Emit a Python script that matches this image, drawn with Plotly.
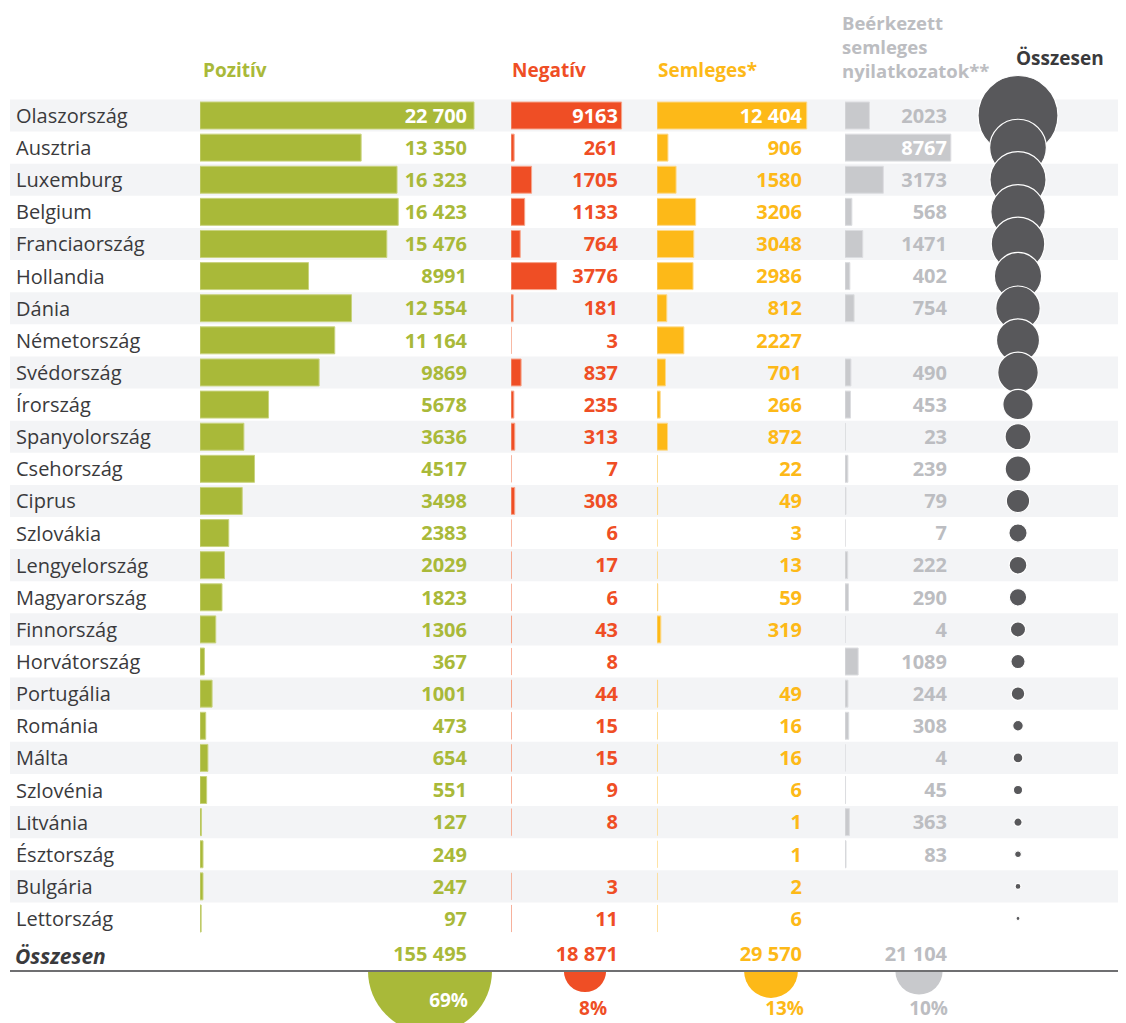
import plotly.graph_objects as go

# Adatok (országonként)
orszagok = ["Olaszország", "Ausztria", "Luxemburg", "Belgium", "Franciaország", "Hollandia",
            "Dánia", "Németország", "Svédország", "Írország", "Spanyolország", "Csehország",
            "Ciprus", "Szlovákia", "Lengyelország", "Magyarország", "Finnország", "Horvátország",
            "Portugália", "Románia", "Málta", "Szlovénia", "Litvánia", "Észtország", "Bulgária",
            "Lettország"]
pozitiv = [22700, 13350, 16323, 16423, 15476, 8991, 12554, 11164, 9869, 5678, 3636, 4517, 3498,
           2383, 2029, 1823, 1306, 367, 1001, 473, 654, 551, 127, 249, 247, 97]
negativ = [9163, 261, 1705, 1133, 764, 3776, 181, 3, 837, 235, 313, 7, 308, 6, 17, 6, 43, 8, 44,
           15, 15, 9, 8, None, 3, 11]
semleges = [12404, 906, 1580, 3206, 3048, 2986, 812, 2227, 701, 266, 872, 22, 49, 3, 13, 59, 319,
            None, 49, 16, 16, 6, 1, 1, 2, 6]
beerkezett = [2023, 8767, 3173, 568, 1471, 402, 754, None, 490, 453, 23, 239, 79, 7, 222, 290, 4,
              1089, 244, 308, 4, 45, 363, 83, None, None]
osszesen = [46290, 23284, 22784, 21339, 20759, 16155, 14301, 13394, 11897, 6632, 4844, 4785, 3934,
            2399, 2281, 2178, 1672, 1464, 1338, 812, 689, 611, 499, 333, 252, 114]
oszlop_osszesen = [155495, 18871, 29570, 21104]
mindosszesen = 225040
aranyok = [69, 8, 13, 10]

# Színek
ZOLD, PIROS, SARGA, SZURKE = "#a9b939", "#ef4e25", "#fdb918", "#c8c9cc"
SZURKE_TXT = "#bcbdc1"
SOTET = "#58585b"
SAV = "#f3f4f6"
FONT = "Open Sans"

# Az oldal 8 px margóval jeleníti meg az ábrát -> minden pozíció oldal-koordinátában
OFF = 8
W, H = 1126 - OFF, 1023 - OFF
ROW0, ROW_H = 115.5, 32.12
S = 274 / 22700  # px / érték, közös skála minden oszlopra


def px(p):
    return (p - OFF) / W


def py(p):
    return 1 - (p - OFF) / H


def fmt(v):
    if v is None:
        return ""
    if v >= 10000:
        return f"{v:,}".replace(",", " ")
    return str(v)


# oszlopok: (adatok, szín, keret, kezdő px, szöveg jobb széle px, szélesség px)
oszlopok = [
    (pozitiv, ZOLD, "#c9d37f", 200, 467, 290),
    (negativ, PIROS, "#f6a58c", 511, 618, 140),
    (semleges, SARGA, "#fdd98a", 657, 802, 180),
    (beerkezett, SZURKE, "#dcdde0", 845, 947, 130),
]
szoveg_szinek = [ZOLD, PIROS, SARGA, SZURKE_TXT]

rows = list(range(len(orszagok)))
y_total = (956 - ROW0) / ROW_H

fig = go.Figure()
layout_axes = {}

for k, (vals, col, line_col, start, txt_r, span) in enumerate(oszlopok):
    xa = "x" if k == 0 else f"x{k + 1}"
    fig.add_trace(go.Bar(
        x=vals, y=rows, orientation="h", width=0.84,
        marker=dict(color=col, line=dict(color=line_col, width=1)),
        xaxis=xa, yaxis="y", showlegend=False, hoverinfo="skip",
    ))
    txt_x = (txt_r - start) / S
    colors = ["white" if (v is not None and start + v * S >= txt_r) else szoveg_szinek[k] for v in vals]
    fig.add_trace(go.Scatter(
        x=[txt_x] * (len(vals) + 1), y=[r + 0.07 for r in rows] + [y_total],
        mode="text", text=[fmt(v) for v in vals] + [fmt(oszlop_osszesen[k])],
        textposition="middle left", cliponaxis=False,
        textfont=dict(family=FONT, size=20, color=colors + [szoveg_szinek[k]], weight="bold"),
        xaxis=xa, yaxis="y", showlegend=False, hoverinfo="skip",
    ))
    name = "xaxis" if k == 0 else f"xaxis{k + 1}"
    layout_axes[name] = dict(domain=[px(start), px(start + span)], range=[0, span / S],
                             visible=False, anchor="y", fixedrange=True)

# buborékok (összesen)
b_start, b_end = 975, 1065
max_d = 80
fig.add_trace(go.Scatter(
    x=[1018] * len(osszesen), y=rows, mode="markers",
    marker=dict(size=[max_d * (v / max(osszesen)) ** 0.5 for v in osszesen], sizemode="diameter",
                color=SOTET, line=dict(color="white", width=1.2), opacity=1),
    xaxis="x5", yaxis="y", cliponaxis=False, showlegend=False, hoverinfo="skip",
))
fig.add_trace(go.Scatter(
    x=[1122] * (len(osszesen) + 1), y=[r + 0.1 for r in rows] + [y_total - 0.1],
    mode="text", text=[fmt(v) for v in osszesen] + [fmt(mindosszesen)],
    textposition="middle left", cliponaxis=False,
    textfont=dict(family=FONT, size=19, color="#4a4a4c"),
    xaxis="x5", yaxis="y", showlegend=False, hoverinfo="skip",
))
layout_axes["xaxis5"] = dict(domain=[px(b_start), px(b_end)], range=[b_start, b_end],
                             visible=False, anchor="y", fixedrange=True)

# alsó félkörök (arányok)
LINE_Y = 971
kor_x = [430, 585, 771, 919]
szazalek_x = [468, 607, 804, 948]
szazalek_y = [1002, 1010, 1010, 1010]
fig.add_trace(go.Scatter(
    x=kor_x, y=[LINE_Y] * 4, mode="markers",
    marker=dict(size=[124 * (a / max(aranyok)) ** 0.5 for a in aranyok], sizemode="diameter",
                color=[ZOLD, PIROS, SARGA, SZURKE], line=dict(width=0), opacity=1),
    xaxis="x6", yaxis="y2", cliponaxis=True, showlegend=False, hoverinfo="skip",
))
fig.add_trace(go.Scatter(
    x=szazalek_x, y=szazalek_y, mode="text", text=[f"{a}%" for a in aranyok],
    textposition="middle left", cliponaxis=False,
    textfont=dict(family=FONT, size=19, color=["white", PIROS, SARGA, SZURKE_TXT], weight="bold"),
    xaxis="x6", yaxis="y2", showlegend=False, hoverinfo="skip",
))
layout_axes["xaxis6"] = dict(domain=[0, 1], range=[OFF, OFF + W], visible=False, anchor="y2",
                             fixedrange=True)

# sorsávok
shapes = []
for r in rows:
    if r % 2 == 0:
        shapes.append(dict(type="rect", xref="paper", yref="y", x0=px(10), x1=px(1122),
                           y0=r - 0.5, y1=r + 0.5, fillcolor=SAV, line=dict(width=0), layer="below"))
shapes.append(dict(type="line", xref="paper", yref="paper", x0=px(10), x1=px(1120),
                   y0=py(LINE_Y), y1=py(LINE_Y), line=dict(color="#6f6f71", width=2)))

annotations = []
for r, name in zip(rows, orszagok):
    annotations.append(dict(text=name, xref="paper", yref="y", x=px(14), y=r, xanchor="left",
                            yanchor="middle", showarrow=False,
                            font=dict(family=FONT, size=20, color="#3a3a3c")))
annotations.append(dict(text="<b><i>Összesen</i></b>", xref="paper", yref="y", x=px(13), y=y_total,
                        xanchor="left", yanchor="middle", showarrow=False,
                        font=dict(family=FONT, size=21, color="#3a3a3c")))

fejlecek = [
    ("Pozitív", 201, 70, ZOLD, 19),
    ("Negatív", 510, 70, PIROS, 19),
    ("Semleges*", 656, 70, SARGA, 19),
    ("Beérkezett<br>semleges<br>nyilatkozatok**", 840, 46, SZURKE_TXT, 18.5),
    ("Összesen", 1014, 58, "#3a3a3c", 19),
]
for txt, x, y, c, fs in fejlecek:
    annotations.append(dict(text=f"<b>{txt}</b>", xref="paper", yref="paper", x=px(x), y=py(y),
                            xanchor="left", yanchor="middle", align="left", showarrow=False,
                            font=dict(family=FONT, size=fs, color=c)))

fig.update_layout(
    width=W, height=H,
    margin=dict(l=0, r=0, t=0, b=0),
    paper_bgcolor="white", plot_bgcolor="rgba(0,0,0,0)",
    barmode="overlay",
    yaxis=dict(domain=[0, 1], range=[(H + OFF - ROW0) / ROW_H, (OFF - ROW0) / ROW_H],
               visible=False, fixedrange=True),
    yaxis2=dict(domain=[0, 1 - (LINE_Y - OFF) / H], range=[OFF + H, LINE_Y], visible=False,
                fixedrange=True),
    shapes=shapes,
    annotations=annotations,
    **layout_axes,
)

fig.write_html("out.html")
